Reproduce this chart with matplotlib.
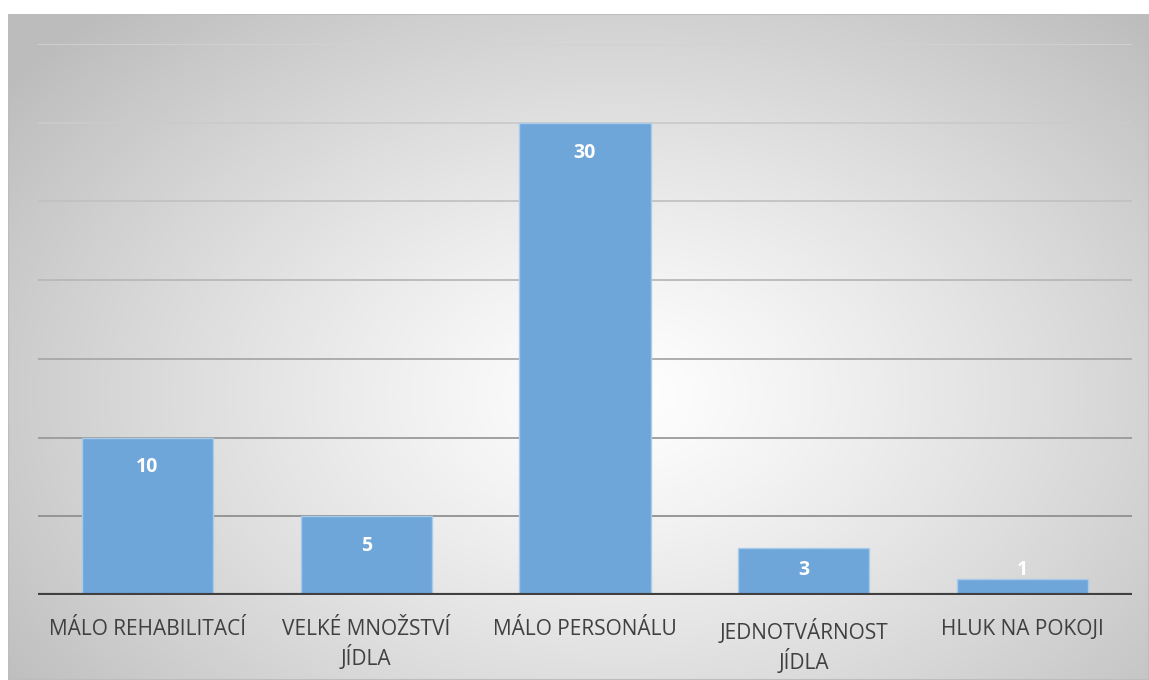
import numpy as np
import matplotlib
matplotlib.use("Agg")
import matplotlib.pyplot as plt
from matplotlib.patches import Rectangle

categories = ["MÁLO REHABILITACÍ", "VELKÉ MNOŽSTVÍ\nJÍDLA", "MÁLO PERSONÁLU",
              "JEDNOTVÁRNOST\nJÍDLA", "HLUK NA POKOJI"]
values = [10, 5, 30, 3, 1]
grid_levels = [5, 10, 15, 20, 25, 30, 35]
grid_colors = ["#909090", "#9a9a9a", "#a8a8a8", "#b8b8b8", "#c2c2c2", "#cbcbcb", "#d2d2d2"]

plt.rcParams["font.family"] = ["Open Sans", "DejaVu Sans"]

W, H = 1149, 680
fig = plt.figure(figsize=(W / 100, H / 100), dpi=100)

# radial gradient background
bg = fig.add_axes([8 / W, 0, (W - 8) / W, (H - 14) / H])
yy, xx = np.mgrid[0:666, 0:1141]
cx, cy = 610, 380
d = np.sqrt(((xx - cx) / 760.0) ** 2 + ((yy - cy) / 520.0) ** 2)
d = np.clip(d, 0, 1)
shade = 1.0 - 0.26 * d ** 1.2
img = np.dstack([shade, shade, shade])
bg.imshow(img, aspect="auto", interpolation="bilinear")
bg.add_patch(Rectangle((0, 0), 1, 1, transform=bg.transAxes, fill=False,
                       edgecolor="#bdbdbd", linewidth=1.5))
bg.axis("off")

ax = fig.add_axes([38 / W, 1 - 595 / H, (1132 - 38) / W, (595 - 44) / H])
ax.set_facecolor("none")
x = np.arange(len(categories))
ax.set_xlim(-0.5, len(categories) - 0.5)
ax.set_ylim(0, 35)

for lvl, c in zip(grid_levels, grid_colors):
    ax.axhline(lvl, color=c, linewidth=1.3, zorder=1)

bars = ax.bar(x, values, width=0.6, color="#6fa6da", edgecolor="#a9cbea",
              linewidth=1, zorder=2)

# value labels just inside the top of each bar
for xi, v in zip(x, values):
    ax.text(xi, max(v - 1.9, 1.6), str(v), ha="center", va="center",
            color="white", fontsize=14, fontweight="bold", zorder=3)

ax.axhline(0, color="#404040", linewidth=3, zorder=4)

for s in ax.spines.values():
    s.set_visible(False)
ax.set_yticks([])
ax.set_xticks(x)
ax.set_xticklabels(categories, fontsize=15, color="#404040", linespacing=1.25,
                   multialignment="center")
ax.tick_params(axis="x", length=0, pad=17)

fig.savefig("out.png", dpi=100)
